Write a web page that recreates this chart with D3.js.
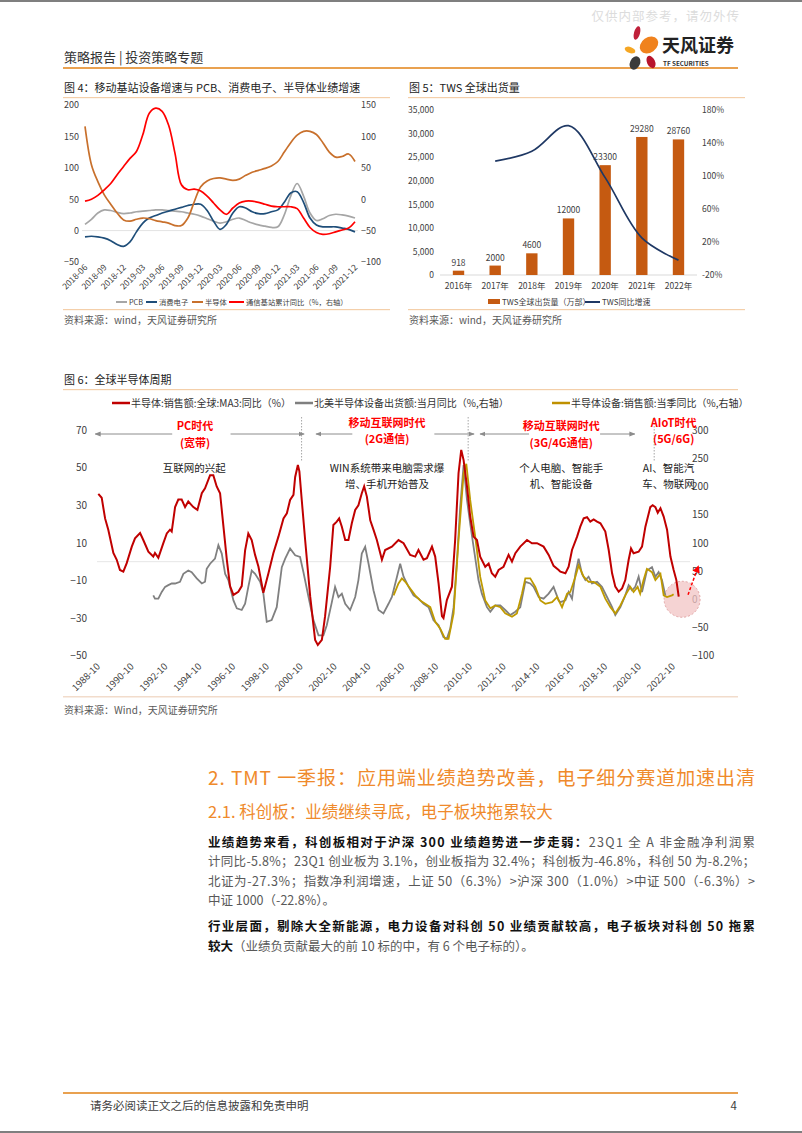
<!DOCTYPE html>
<html>
<head>
<meta charset="utf-8">
<script src="https://cdn.jsdelivr.net/npm/d3@7"></script>
<style>
body{margin:0;background:#fff;}
svg{display:block;font-family:"Noto Sans CJK SC","Noto Sans",sans-serif;}
</style>
</head>
<body>
<div id="page"></div>
<script>
// ---------- figure 4 data (monthly, 2018-06 .. 2021-12) ----------
var fig4Ticks = ["2018-06","2018-09","2018-12","2019-03","2019-06","2019-09","2019-12","2020-03","2020-06","2020-09","2020-12","2021-03","2021-06","2021-09","2021-12"];
var pcb = [10,18,28,33,32,29,27,28,30,31,32,33,33,32,31,30,28,26,23,19,15,12,14,18,20,16,12,9,7,5,6,25,55,75,55,28,16,19,24,26,25,23,20];
var consumerElec = [-10,-9,-10,-12,-16,-22,-25,-18,-2,12,20,24,28,31,34,37,40,42,42,32,15,2,10,28,38,36,30,27,27,30,33,45,60,62,45,20,9,6,6,6,4,2,-2];
var semis = [166,105,78,57,42,28,17,15,18,20,19,16,14,12,8,8,20,46,70,79,83,84,82,80,82,88,93,96,99,103,110,125,140,152,158,158,153,140,125,117,118,122,110];
var baseStation = [-3,0,6,15,25,39,52,65,76,103,137,145,140,118,73,23,15,16,13,5,-6,-17,-24,-14,-6,-3,-3,-5,-8,-11,-12,-12,-12,-15,-30,-45,-53,-56,-55,-52,-49,-46,-36];
var fig4Left = [200,150,100,50,0,-50];
var fig4Right = [150,100,50,0,-50,-100];

// ---------- figure 5 data ----------
var twsYears = ["2016年","2017年","2018年","2019年","2020年","2021年","2022年"];
var twsShip = [918,2000,4600,12000,23300,29280,28760];
var twsGrowth = [null,118,130,161,98,25,-2];
var fig5Left = [0,5000,10000,15000,20000,25000,30000,35000];
var fig5Right = [-20,20,60,100,140,180];

// ---------- figure 6 data ([year, value]) ----------
var semiSales = [[1988.73,36],[1988.93,34],[1989.13,23],[1989.32,17],[1989.62,4.6],[1989.82,1],[1990.01,-4.4],[1990.21,-5.3],[1990.41,-0.8],[1990.71,8],[1990.9,12.4],[1991.2,15.2],[1991.39,11.5],[1991.69,5.3],[1991.98,2.7],[1992.08,4.6],[1992.28,2],[1992.58,10],[1992.78,15],[1992.97,17],[1993.07,16],[1993.27,29],[1993.46,33],[1993.66,33],[1993.86,29],[1994.05,32],[1994.35,29],[1994.59,27.5],[1994.85,36.4],[1995.04,39],[1995.34,46],[1995.53,46],[1995.73,40],[1995.93,36.4],[1996.13,18.6],[1996.33,1],[1996.52,-13],[1996.72,-17.7],[1997.01,-16],[1997.21,-13],[1997.41,6],[1997.6,15],[1997.8,11.5],[1998.0,3.6],[1998.2,-2.7],[1998.49,-16.5],[1998.79,-6.2],[1999.08,4.5],[1999.38,13.3],[1999.68,23],[1999.88,25.7],[2000.07,32.8],[2000.27,35.5],[2000.37,45],[2000.53,51.4],[2000.62,48],[2000.76,32.8],[2000.96,11.5],[2001.26,-18.6],[2001.55,-41.6],[2001.71,-44.3],[2001.95,-41.6],[2002.14,-29],[2002.44,-2.7],[2002.63,19.5],[2002.83,21.3],[2002.97,23],[2003.13,18.6],[2003.33,11.5],[2003.52,11.5],[2003.72,20.4],[2003.92,27.5],[2004.11,30],[2004.31,36.4],[2004.45,40],[2004.61,34.6],[2004.81,22],[2005.0,17],[2005.2,11.5],[2005.5,1],[2005.69,6.2],[2006.09,8],[2006.48,11.5],[2006.78,9.8],[2007.17,3.6],[2007.47,2.7],[2007.66,6.2],[2007.96,1],[2008.16,1.8],[2008.46,8],[2008.65,2.7],[2008.85,-11.5],[2009.05,-29],[2009.14,-30],[2009.34,-20.4],[2009.64,-13.3],[2009.83,11.5],[2010.03,47],[2010.19,59.4],[2010.33,54],[2010.53,40],[2010.72,24],[2010.92,13.3],[2011.12,11.5],[2011.31,2.7],[2011.61,-2.7],[2011.81,-1],[2012.0,-6.2],[2012.2,-8],[2012.4,-4.4],[2012.69,-2.7],[2012.99,3.6],[2013.19,0],[2013.39,4.5],[2013.68,8],[2014.08,11.5],[2014.37,9.8],[2014.67,9.8],[2015.06,8],[2015.36,3.6],[2015.65,-2.2],[2015.95,-4.4],[2016.05,-5.3],[2016.35,-6.2],[2016.54,-2.7],[2016.74,6.2],[2017.04,13.3],[2017.23,18.6],[2017.43,23],[2017.63,23.6],[2017.82,21.3],[2018.02,22.5],[2018.22,21.3],[2018.42,20.4],[2018.71,16],[2018.91,6.2],[2019.11,-6.2],[2019.3,-13.3],[2019.5,-16],[2019.7,-14.2],[2019.89,-9.8],[2020.09,1],[2020.23,7],[2020.38,4.5],[2020.68,5.3],[2020.88,8],[2021.08,18.6],[2021.37,29],[2021.51,30],[2021.67,29],[2021.81,26],[2021.97,28.4],[2022.16,24],[2022.36,17],[2022.56,2.7],[2022.75,-4.4],[2022.91,-9.8],[2023.05,-18.6]];
var naEquip = [[1991.98,7],[1992.08,1],[1992.28,1],[1992.48,13],[1992.68,22],[1992.87,25],[1993.07,28],[1993.27,28],[1993.56,31],[1993.76,45],[1994.05,51],[1994.25,48],[1994.55,37],[1994.85,28],[1995.04,31],[1995.14,54],[1995.34,63],[1995.63,72],[1995.83,96],[1996.03,81],[1996.23,45],[1996.42,34],[1996.72,-2],[1996.92,-16],[1997.21,-19],[1997.41,-8],[1997.6,22],[1997.8,51],[1998.0,45],[1998.3,31],[1998.49,10],[1998.69,-40],[1998.98,-37],[1999.28,-14],[1999.58,57],[1999.78,72],[2000.07,90],[2000.37,78],[2000.66,75],[2000.86,48],[2001.16,4],[2001.45,-37],[2001.75,-64],[2002.04,-64],[2002.24,-46],[2002.54,-5],[2002.73,22],[2002.93,4],[2003.13,10],[2003.33,-8],[2003.62,-19],[2003.92,4],[2004.11,34],[2004.31,81],[2004.51,93],[2004.71,63],[2005.0,16],[2005.3,-19],[2005.59,-25],[2005.89,-8],[2006.09,4],[2006.39,40],[2006.58,63],[2006.78,40],[2007.08,22],[2007.37,7],[2007.67,1],[2007.96,-8],[2008.26,-14],[2008.55,-37],[2008.85,-46],[2009.14,-67],[2009.34,-70],[2009.54,-52],[2009.74,-14],[2009.94,69],[2010.13,164],[2010.33,238],[2010.53,176],[2010.72,134],[2010.92,93],[2011.21,34],[2011.41,10],[2011.71,-14],[2011.91,-22],[2012.2,-11],[2012.5,-11],[2012.79,-19],[2013.09,-28],[2013.39,-22],[2013.68,-14],[2013.98,31],[2014.27,28],[2014.47,22],[2014.77,4],[2015.06,1],[2015.36,10],[2015.65,22],[2015.95,-2],[2016.05,-5],[2016.35,-2],[2016.54,13],[2016.74,1],[2016.94,45],[2017.13,72],[2017.33,45],[2017.53,34],[2017.72,40],[2017.92,28],[2018.22,31],[2018.51,22],[2018.81,4],[2019.11,-14],[2019.3,-28],[2019.6,-14],[2019.89,7],[2020.09,25],[2020.29,16],[2020.48,22],[2020.68,40],[2020.88,13],[2021.17,51],[2021.47,57],[2021.67,40],[2021.86,48],[2022.06,34],[2022.26,7]];
var equipSales = [[2006.19,7],[2006.48,28],[2006.68,37],[2006.88,31],[2007.17,19],[2007.47,7],[2007.76,-2],[2008.06,-8],[2008.36,-14],[2008.65,-40],[2008.95,-52],[2009.24,-70],[2009.44,-70],[2009.74,-25],[2010.03,105],[2010.33,223],[2010.49,240],[2010.72,176],[2011.02,110],[2011.31,40],[2011.61,-2],[2011.91,-16],[2012.2,-11],[2012.5,-14],[2012.79,-25],[2013.19,-31],[2013.48,-25],[2013.78,10],[2013.98,37],[2014.27,37],[2014.57,22],[2014.87,-2],[2015.16,-8],[2015.56,-5],[2015.86,4],[2016.15,-14],[2016.45,10],[2016.64,13],[2016.94,40],[2017.13,60],[2017.43,40],[2017.72,31],[2018.02,31],[2018.42,22],[2018.71,1],[2019.01,-14],[2019.3,-25],[2019.6,-11],[2019.89,7],[2020.19,22],[2020.38,13],[2020.62,22],[2020.77,10],[2020.97,34],[2021.17,54],[2021.47,48],[2021.67,34],[2021.97,45],[2022.16,7],[2022.36,4],[2022.65,7],[2022.75,9]];
var fig6Years = [1988,1990,1992,1994,1996,1998,2000,2002,2004,2006,2008,2010,2012,2014,2016,2018,2020,2022];
var fig6Left = [70,50,30,10,-10,-30,-50];
var fig6Right = [300,250,200,150,100,50,0,-50,-100];
var eraNames = [["PC时代","(宽带)"],["移动互联网时代","(2G通信)"],["移动互联网时代","(3G/4G通信)"],["AIoT时代","(5G/6G)"]];
var eraCenters = [1994.45, 2005.8, 2016.1, 2022.75];
var eraBounds = [2000.75, 2010.6, 2021.6];
var eraNotes = [["互联网的兴起"],["WIN系统带来电脑需求爆","增、手机开始普及"],["个人电脑、智能手","机、智能设备"],["AI、智能汽","车、物联网"]];

var W = 802, H = 1133;
var svg = d3.select("#page").append("svg").attr("width", W).attr("height", H);
svg.append("rect").attr("width", W).attr("height", H).attr("fill", "#fff");

var ORANGE = "#e9a150", LIGHTOR = "#f4cfaa", TXT = "#404040";

// page frame lines
svg.append("rect").attr("x",0).attr("y",0).attr("width",W).attr("height",2).attr("fill","#7f7f7f");
svg.append("rect").attr("x",0).attr("y",H-2).attr("width",W).attr("height",2).attr("fill","#7f7f7f");

// watermark + header
svg.append("text").attr("x",740).attr("y",21).attr("text-anchor","end").attr("font-size",12.5)
  .attr("fill","#dcdcdc").attr("letter-spacing",1).text("仅供内部参考，请勿外传");
svg.append("text").attr("x",64).attr("y",62).attr("font-size",13).attr("fill","#333").text("策略报告 | 投资策略专题");
svg.append("rect").attr("x",63).attr("y",67).attr("width",675).attr("height",2).attr("fill",ORANGE);

// logo
var logo = svg.append("g");
logo.append("ellipse").attr("cx",637).attr("cy",33).attr("rx",3).attr("ry",7).attr("transform","rotate(15,637,33)").attr("fill","#c0203a");
logo.append("ellipse").attr("cx",649).attr("cy",45).attr("rx",10).attr("ry",7.5).attr("transform","rotate(-35,649,45)").attr("fill","#f0821e");
logo.append("ellipse").attr("cx",630).attr("cy",50).attr("rx",5.5).attr("ry",3).attr("transform","rotate(20,630,50)").attr("fill","#f5a623");
logo.append("ellipse").attr("cx",635).attr("cy",63).attr("rx",5).attr("ry",7).attr("transform","rotate(25,635,63)").attr("fill","#3a3a3a");
logo.append("ellipse").attr("cx",651).attr("cy",62).attr("rx",4).attr("ry",6.5).attr("transform","rotate(-25,651,62)").attr("fill","#b8142c");
logo.append("text").attr("x",662).attr("y",52).attr("font-size",18).attr("font-weight","bold").attr("fill","#222").text("天风证券");
logo.append("text").attr("x",663).attr("y",65.5).attr("font-size",6.3).attr("font-weight","bold").attr("fill","#333").text("TF SECURITIES");

function figTitle(x, y, w, label) {
  svg.append("text").attr("x",x).attr("y",y).attr("font-size",11).attr("fill","#222").text(label);
  svg.append("rect").attr("x",x-1).attr("y",y+5).attr("width",w).attr("height",1.2).attr("fill",LIGHTOR);
}
function figSource(x, y, w, label) {
  svg.append("rect").attr("x",x-1).attr("y",y-15).attr("width",w).attr("height",1.2).attr("fill",LIGHTOR);
  svg.append("text").attr("x",x).attr("y",y).attr("font-size",10).attr("fill","#595959").text(label);
}
function styleAxis(g, size) {
  g.select(".domain").remove();
  g.selectAll("text").attr("font-size", size).attr("fill", TXT).attr("font-family","'Noto Sans CJK SC',sans-serif");
}

// ================= Figure 4 =================
figTitle(64, 92, 327, "图 4：移动基站设备增速与 PCB、消费电子、半导体业绩增速");
var x4 = d3.scaleLinear().domain([0, pcb.length - 1]).range([85, 355]);
var y4 = d3.scaleLinear().domain([-50, 200]).range([262, 105]);
var y4r = d3.scaleLinear().domain([-100, 150]).range([262, 105]);
svg.append("line").attr("x1",82).attr("x2",358).attr("y1",y4(0)).attr("y2",y4(0)).attr("stroke","#e3e3e3");
styleAxis(svg.append("g").attr("transform","translate(79,0)")
  .call(d3.axisLeft(y4).tickValues(fig4Left).tickSize(0).tickPadding(0)), 9);
styleAxis(svg.append("g").attr("transform","translate(361,0)")
  .call(d3.axisRight(y4r).tickValues(fig4Right).tickSize(0).tickPadding(0)), 9);
var g4x = svg.append("g").attr("transform","translate(0,268)");
fig4Ticks.forEach(function(t, i) {
  var px = x4(i * 3);
  g4x.append("text").attr("transform","translate(" + (px + 3) + ",0) rotate(-45)")
    .attr("text-anchor","end").attr("font-size",8.5).attr("fill",TXT).text(t);
});
var line4 = d3.line().x(function(d, i){ return x4(i); }).curve(d3.curveCatmullRom.alpha(0.5));
var series4 = [
  {name:"PCB", data:pcb, color:"#a6a6a6", y:y4},
  {name:"消费电子", data:consumerElec, color:"#1f4e79", y:y4},
  {name:"半导体", data:semis, color:"#c8702c", y:y4},
  {name:"通信基站累计同比（%，右轴）", data:baseStation, color:"#ff0000", y:y4r}
];
series4.forEach(function(s) {
  svg.append("path").attr("fill","none").attr("stroke",s.color).attr("stroke-width",1.7)
    .attr("d", line4.y(function(d){ return s.y(d); })(s.data));
});
var leg4x = [116, 146, 192, 229];
series4.forEach(function(s, i) {
  var lx = leg4x[i];
  svg.append("line").attr("x1",lx).attr("x2",lx + (i === 3 ? 15 : 11)).attr("y1",302).attr("y2",302)
    .attr("stroke",s.color).attr("stroke-width",2);
  svg.append("text").attr("x",lx + (i === 3 ? 17 : 13)).attr("y",304.5).attr("font-size",7.3).attr("fill",TXT).text(s.name);
});
figSource(64, 324, 327, "资料来源：wind，天风证券研究所");

// ================= Figure 5 =================
figTitle(409, 92, 337, "图 5：TWS 全球出货量");
var x5 = d3.scaleBand().domain(twsYears).range([440, 697]).paddingInner(0.69).paddingOuter(0.35);
var y5 = d3.scaleLinear().domain([0, 35000]).range([275, 110]);
var y5r = d3.scaleLinear().domain([-20, 180]).range([275, 110]);
styleAxis(svg.append("g").attr("transform","translate(434,0)")
  .call(d3.axisLeft(y5).tickValues(fig5Left).tickSize(0).tickPadding(0).tickFormat(d3.format(","))), 8.5);
styleAxis(svg.append("g").attr("transform","translate(702,0)")
  .call(d3.axisRight(y5r).tickValues(fig5Right).tickSize(0).tickPadding(0).tickFormat(function(d){ return d + "%"; })), 8.5);
svg.append("line").attr("x1",440).attr("x2",697).attr("y1",y5(0)).attr("y2",y5(0)).attr("stroke","#d9d9d9");
svg.selectAll(".bar5").data(twsShip).enter().append("rect").attr("class","bar5")
  .attr("x", function(d, i){ return x5(twsYears[i]); })
  .attr("width", x5.bandwidth())
  .attr("y", function(d){ return y5(d); })
  .attr("height", function(d){ return y5(0) - y5(d); })
  .attr("fill","#c55a11");
svg.selectAll(".lab5").data(twsShip).enter().append("text").attr("class","lab5")
  .attr("x", function(d, i){ return x5(twsYears[i]) + x5.bandwidth() / 2; })
  .attr("y", function(d){ return y5(d) - 5; })
  .attr("text-anchor","middle").attr("font-size",8.5).attr("fill",TXT).text(function(d){ return d; });
styleAxis(svg.append("g").attr("transform","translate(0,280)")
  .call(d3.axisBottom(x5).tickSize(0).tickPadding(3)), 8.5);
var growthPts = twsGrowth.map(function(v, i){ return [twsYears[i], v]; }).filter(function(d){ return d[1] !== null; });
svg.append("path").attr("fill","none").attr("stroke","#1f3864").attr("stroke-width",1.7)
  .attr("d", d3.line().x(function(d){ return x5(d[0]) + x5.bandwidth() / 2; }).y(function(d){ return y5r(d[1]); })
    .curve(d3.curveCatmullRom.alpha(0.5))(growthPts));
svg.append("rect").attr("x",488).attr("y",299).attr("width",12).attr("height",5).attr("fill","#c55a11");
svg.append("text").attr("x",502).attr("y",305).attr("font-size",8).attr("fill",TXT).text("TWS全球出货量（万部）");
svg.append("line").attr("x1",585).attr("x2",600).attr("y1",302).attr("y2",302).attr("stroke","#1f3864").attr("stroke-width",2);
svg.append("text").attr("x",602).attr("y",305).attr("font-size",8).attr("fill",TXT).text("TWS同比增速");
figSource(409, 324, 337, "资料来源：wind，天风证券研究所");

// ================= Figure 6 =================
svg.append("text").attr("x",64).attr("y",384).attr("font-size",11).attr("fill","#222").text("图 6：全球半导体周期");
svg.append("rect").attr("x",63).attr("y",389).attr("width",675).attr("height",1.2).attr("fill",LIGHTOR);

var x6 = d3.scaleLinear().domain([1988.83, 2022.83]).range([100, 675]);
var y6 = d3.scaleLinear().domain([-50, 70]).range([655.7, 430]);
var y6r = d3.scaleLinear().domain([-100, 300]).range([655.7, 430]);

var legend6 = [
  {name:"半导体:销售额:全球:MA3:同比（%）", color:"#c00000", x:112},
  {name:"北美半导体设备出货额:当月同比（%,右轴）", color:"#7f7f7f", x:295},
  {name:"半导体设备:销售额:当季同比（%,右轴）", color:"#bf9000", x:552}
];
legend6.forEach(function(l) {
  svg.append("line").attr("x1",l.x).attr("x2",l.x + 18).attr("y1",403).attr("y2",403).attr("stroke",l.color).attr("stroke-width",2.5);
  svg.append("text").attr("x",l.x + 19).attr("y",407).attr("font-size",10).attr("fill","#333").text(l.name);
});

svg.append("line").attr("x1",97).attr("x2",690).attr("y1",y6(0)).attr("y2",y6(0)).attr("stroke","#e6e6e6");
styleAxis(svg.append("g").attr("transform","translate(87,0)")
  .call(d3.axisLeft(y6).tickValues(fig6Left).tickSize(0).tickPadding(0)), 10);
styleAxis(svg.append("g").attr("transform","translate(692,0)")
  .call(d3.axisRight(y6r).tickValues(fig6Right).tickSize(0).tickPadding(0)), 10);
var g6x = svg.append("g");
fig6Years.forEach(function(yr) {
  var px = x6(yr + 0.75);
  g6x.append("text").attr("transform","translate(" + (px + 2) + ",667) rotate(-45)")
    .attr("text-anchor","end").attr("font-size",9.5).attr("fill",TXT).text(yr + "-10");
});

// era separators and labels
eraBounds.forEach(function(b) {
  svg.append("line").attr("x1",x6(b)).attr("x2",x6(b)).attr("y1",417).attr("y2",462)
    .attr("stroke","#a6a6a6").attr("stroke-dasharray","1.5,1.5");
});
var defs = svg.append("defs");
defs.append("marker").attr("id","ah").attr("viewBox","0 0 10 10").attr("refX",9).attr("refY",5)
  .attr("markerWidth",6).attr("markerHeight",6).attr("orient","auto-start-reverse")
  .append("path").attr("d","M0,1L10,5L0,9z").attr("fill","#8c8c8c");
defs.append("marker").attr("id","ahr").attr("viewBox","0 0 10 10").attr("refX",8).attr("refY",5)
  .attr("markerWidth",5).attr("markerHeight",5).attr("orient","auto")
  .append("path").attr("d","M0,0L10,5L0,10z").attr("fill","#ff0000");
var arrows6 = [[1988.55, 1993.1, "start"], [1996.55, 2000.9, "end"], [2001.6, 2003.75, "start"], [2008.6, 2010.95, "end"], [2011.3, 2014.2, "start"], [2018.4, 2020.45, "end"]];
arrows6.forEach(function(a) {
  var ln = svg.append("line").attr("x1",x6(a[0])).attr("x2",x6(a[1])).attr("y1",434).attr("y2",434)
    .attr("stroke","#8c8c8c").attr("stroke-width",1);
  if (a[2] === "start") ln.attr("marker-start","url(#ah)"); else ln.attr("marker-end","url(#ah)");
});
eraNames.forEach(function(e, i) {
  var cx = x6(eraCenters[i]);
  svg.append("text").attr("x",cx).attr("y",i % 2 ? 427 : 430).attr("text-anchor","middle").attr("font-size",11)
    .attr("font-weight","bold").attr("fill","#ff0000").text(e[0]);
  svg.append("text").attr("x",cx).attr("y",i % 2 ? 443 : 447).attr("text-anchor","middle").attr("font-size",11)
    .attr("font-weight","bold").attr("fill","#ff0000").text(e[1]);
});
var noteCenters = [1994.4, 2005.8, 2016.1, 2022.45];
eraNotes.forEach(function(n, i) {
  n.forEach(function(line, j) {
    svg.append("text").attr("x",x6(noteCenters[i])).attr("y",472 + j * 16).attr("text-anchor","middle")
      .attr("font-size",10.5).attr("fill","#222").text(line);
  });
});

// pink highlight circle
svg.append("circle").attr("cx",x6(2023.25)).attr("cy",y6r(0)).attr("r",18)
  .attr("fill","#f2c4c4").attr("fill-opacity",0.75).attr("stroke","#e3a6a6").attr("stroke-dasharray","2,2");

var line6 = d3.line().x(function(d){ return x6(d[0]); });
svg.append("path").attr("fill","none").attr("stroke","#808080").attr("stroke-width",1.8)
  .attr("d", line6.y(function(d){ return y6r(d[1]); })(naEquip));
svg.append("path").attr("fill","none").attr("stroke","#bf9a00").attr("stroke-width",1.8)
  .attr("d", line6.y(function(d){ return y6r(d[1]); })(equipSales));
svg.append("path").attr("fill","none").attr("stroke","#c00000").attr("stroke-width",2)
  .attr("d", line6.y(function(d){ return y6(d[1]); })(semiSales));

svg.append("line").attr("x1",x6(2023.6)).attr("y1",y6r(8)).attr("x2",x6(2024.2)).attr("y2",y6r(58))
  .attr("stroke","#ff0000").attr("stroke-width",1.5).attr("stroke-dasharray","3,2").attr("marker-end","url(#ahr)");

svg.append("rect").attr("x",63).attr("y",696).attr("width",675).attr("height",1.5).attr("fill","#f2dccb");
svg.append("text").attr("x",64).attr("y",714).attr("font-size",10).attr("fill","#595959").text("资料来源：Wind，天风证券研究所");

// ================= Text section =================
var ORT = "#ef8a2b";
svg.append("text").attr("x",208).attr("y",785).attr("font-size",19).attr("fill",ORT)
  .attr("textLength",547).attr("lengthAdjust","spacing").text("2. TMT 一季报：应用端业绩趋势改善，电子细分赛道加速出清");
svg.append("text").attr("x",208).attr("y",818).attr("font-size",16.5).attr("fill",ORT)
  .text("2.1. 科创板：业绩继续寻底，电子板块拖累较大");

var bodyLines = [
  {y:847, full:true, parts:[["业绩趋势来看，科创板相对于沪深 300 业绩趋势进一步走弱：",true],["23Q1 全 A 非金融净利润累",false]]},
  {y:866, full:true, parts:[["计同比-5.8%；23Q1 创业板为 3.1%，创业板指为 32.4%；科创板为-46.8%，科创 50 为-8.2%；",false]]},
  {y:886, full:true, parts:[["北证为-27.3%；指数净利润增速，上证 50（6.3%）>沪深 300（1.0%）>中证 500（-6.3%）>",false]]},
  {y:905, full:false, parts:[["中证 1000（-22.8%）。",false]]},
  {y:931, full:true, parts:[["行业层面，剔除大全新能源，电力设备对科创 50 业绩贡献较高，电子板块对科创 50 拖累",true]]},
  {y:951, full:false, parts:[["较大",true],["（业绩负贡献最大的前 10 标的中，有 6 个电子标的）。",false]]}
];
bodyLines.forEach(function(l) {
  var t = svg.append("text").attr("x",208).attr("y",l.y).attr("font-size",12.5);
  if (l.full) t.attr("textLength",547).attr("lengthAdjust","spacing");
  l.parts.forEach(function(p) {
    t.append("tspan").attr("font-weight", p[1] ? "bold" : "normal").attr("fill", p[1] ? "#111" : "#595959").text(p[0]);
  });
});

// footer
svg.append("rect").attr("x",63).attr("y",1092).attr("width",675).attr("height",2).attr("fill",ORANGE);
svg.append("text").attr("x",90).attr("y",1110).attr("font-size",11.5).attr("fill","#404040").text("请务必阅读正文之后的信息披露和免责申明");
svg.append("text").attr("x",737).attr("y",1110).attr("text-anchor","end").attr("font-size",11.5).attr("fill","#404040").text("4");
</script>
</body>
</html>
